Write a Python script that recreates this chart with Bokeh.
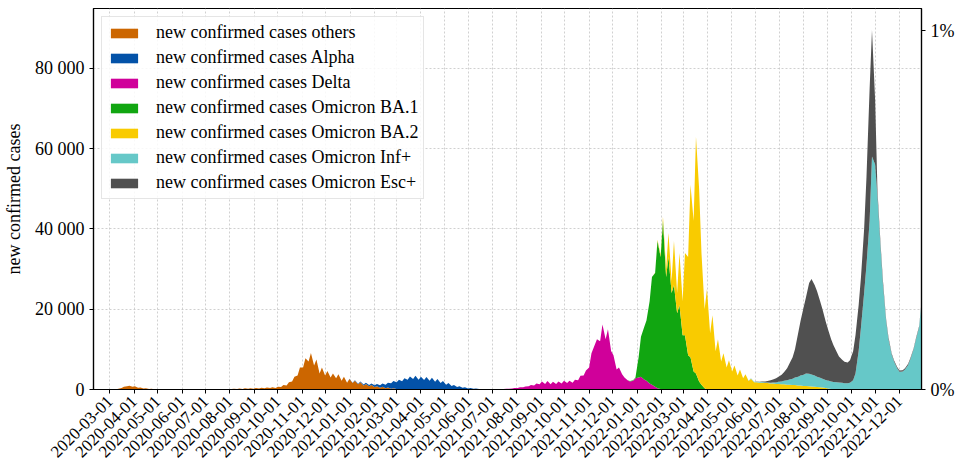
import numpy as np
import pandas as pd
from bokeh.plotting import figure
from bokeh.models import ColumnDataSource, Range1d, LinearAxis, FixedTicker, DatetimeTickFormatter
from bokeh.embed import file_html
from bokeh.resources import INLINE

# ---------------- data (twice-weekly grid: Monday / Thursday) -------------
first_monday = "2020-02-24"
n_weeks = 149

series_labels = ["new confirmed cases others", "new confirmed cases Alpha", "new confirmed cases Delta",
                 "new confirmed cases Omicron BA.1", "new confirmed cases Omicron BA.2",
                 "new confirmed cases Omicron Inf+", "new confirmed cases Omicron Esc+"]
series_colors = ["#cc6600", "#0352a8", "#d0009a", "#11a611", "#f9cb00", "#66c8c8", "#505050"]

# start week index, then values as (Mon, Thu) pairs
others_start = 0
others = [0, 0, 0, 20, 60, 180, 400, 700, 800, 950, 700, 800, 450, 500, 250, 300, 120, 180, 80, 100,
          40, 60, 40, 60, 40, 60, 40, 60, 40, 60, 40, 60, 40, 60, 40, 60,
          80, 120, 80, 120, 80, 120, 80, 120, 80, 120,
          100, 200, 150, 250, 150, 300, 200, 300, 200, 400, 250, 450, 300, 500, 350, 550, 400, 700,
          600, 1100, 1000, 1800, 2000, 3200, 3500, 5500, 5500, 7800, 7000, 9100, 6000, 7500,
          4000, 5500, 3500, 4600, 3000, 4000, 2800, 3800, 2200, 3200, 1700, 2600,
          1600, 2200, 1300, 1800, 1000, 1400, 800, 1100, 600, 800, 450, 700, 300, 500,
          200, 300, 100, 150, 50, 80, 30, 30]

alpha_start = 44
alpha = [0, 50, 70, 100, 150, 200, 220, 300, 300, 400, 450, 600, 600, 800, 900, 1200, 1350, 1800,
         1700, 2250, 2000, 2700, 2400, 3200, 2600, 3400, 2450, 3200, 2350, 3100, 2200, 2900,
         1950, 2600, 1600, 2100, 1200, 1600, 850, 1100, 600, 800, 420, 550, 270, 350, 190, 250,
         120, 150, 80, 100, 50, 60, 30, 30, 20, 20, 10, 0]

delta_start = 70
delta = [0, 10, 20, 40, 60, 100, 150, 200, 250, 350, 400, 550, 550, 750, 800, 1100, 1000, 1500,
         1300, 2000, 1400, 2100, 1300, 1900, 1400, 2000, 1500, 2200, 1600, 2200, 1700, 2400,
         2300, 3400, 3500, 4700, 5500, 9000, 11000, 12500, 12000, 16200, 12500, 15000,
         9600, 8500, 5000, 5500, 3800, 3000, 2300, 2000, 2200, 2800, 3000, 3150, 2500, 2200,
         1500, 1200, 700, 300, 100, 0]

ba1_start = 95
ba1 = [0, 100, 100, 200, 5000, 10000, 13000, 15000, 20500, 26800, 28300, 36700, 32900, 42000,
       28000, 33000, 24000, 26000, 19000, 21000, 13500, 13500, 8500, 8000, 4500, 4000,
       2000, 1200, 300, 0]

ba2_start = 100
ba2 = [100, 300, 500, 1000, 2000, 6000, 3000, 11000, 5000, 13000, 8500, 20500,
       24500, 43000, 37500, 59000, 48000, 32800, 19700, 25000, 14000, 18500, 9500, 12500,
       7000, 9000, 5500, 7300, 4500, 6000, 3500, 5000, 2800, 3800, 2100, 2700,
       1800, 1800, 1700, 1700, 1600, 1600, 1500, 1500, 1400, 1400, 1300, 1300, 1200, 1200,
       1100, 1100, 1000, 1000, 900, 900, 800, 750, 700, 650, 550, 500, 350, 250, 100, 0]

inf_start = 116
inf = [0, 0, 50, 100, 150, 150, 150, 150, 150, 150, 200, 250, 350, 500, 700, 900, 1100, 1300,
       1600, 1900, 2200, 2500, 2800, 3100, 3100, 3000, 2800, 2500, 2400, 2200, 2000, 2000,
       1900, 1850, 1800, 1750, 1650, 1550, 1550, 1700, 2300, 4000, 9500, 15500, 24000, 31000,
       42000, 58000, 56000, 48000, 35000, 26000, 17000, 12500, 8700, 7000, 5300, 4400,
       4500, 5000, 6100, 7600, 10000, 12500, 15500, 21500]

esc_start = 118
esc = [0, 50, 100, 150, 250, 350, 600, 750, 1050, 1300, 1700, 2100, 3000, 4000, 5300, 7000,
       10800, 13500, 16800, 19000, 22600, 23750, 22500, 21350, 19050, 17300, 14650, 12750,
       10500, 9150, 7600, 6450, 5750, 5350, 5150, 5600, 7200, 9500, 11500, 12500, 16000, 22000,
       33000, 31500, 16000, 1500, 1000, 1000, 500, 500, 300, 300, 300, 300, 300, 300,
       300, 300, 300, 300, 300, 300]

x_tick_labels = ["2020-03-01", "2020-04-01", "2020-05-01", "2020-06-01", "2020-07-01", "2020-08-01",
                 "2020-09-01", "2020-10-01", "2020-11-01", "2020-12-01", "2021-01-01", "2021-02-01",
                 "2021-03-01", "2021-04-01", "2021-05-01", "2021-06-01", "2021-07-01", "2021-08-01",
                 "2021-09-01", "2021-10-01", "2021-11-01", "2021-12-01", "2022-01-01", "2022-02-01",
                 "2022-03-01", "2022-04-01", "2022-05-01", "2022-06-01", "2022-07-01", "2022-08-01",
                 "2022-09-01", "2022-10-01", "2022-11-01", "2022-12-01"]
y_ticks = [0, 20000, 40000, 60000, 80000]
y_tick_labels = ["0", "20 000", "40 000", "60 000", "80 000"]
pct_ticks = [0, 1]
pct_tick_labels = ["0%", "1%"]
one_percent_cases = 89390

# ---------------- build table ----------------
mondays = pd.date_range(first_monday, periods=n_weeks, freq="7D")
dates = []
for m in mondays:
    dates.append(m)
    dates.append(m + pd.Timedelta(days=3))
n = len(dates)


def expand(start_week, vals):
    arr = np.zeros(n)
    arr[2 * start_week: 2 * start_week + len(vals)] = vals
    return arr


keys = ["s0", "s1", "s2", "s3", "s4", "s5", "s6"]
data = {"date": dates}
for k, (st, vals) in zip(keys, [(others_start, others), (alpha_start, alpha), (delta_start, delta),
                                 (ba1_start, ba1), (ba2_start, ba2), (inf_start, inf), (esc_start, esc)]):
    data[k] = expand(st, vals)
src = ColumnDataSource(data)

FONT = "Liberation Serif"
y_top = 94870

p = figure(width=957, height=466, x_axis_type="datetime", output_backend="svg", toolbar_location=None,
           x_range=Range1d(pd.Timestamp("2020-02-09 07:00"), dates[-1]),
           y_range=Range1d(0, y_top),
           min_border_left=90, min_border_right=36, min_border_top=8, min_border_bottom=77)

p.varea_stack(stackers=keys, x="date", color=series_colors, source=src, legend_label=series_labels)

# x axis
tick_ms = [pd.Timestamp(s).value // 10**6 for s in x_tick_labels]
p.xaxis.ticker = FixedTicker(ticks=tick_ms)
p.xaxis.formatter = DatetimeTickFormatter(days="%Y-%m-%d", months="%Y-%m-%d", years="%Y-%m-%d")
p.xaxis.major_label_orientation = np.pi / 4

# y axis
p.yaxis.ticker = FixedTicker(ticks=y_ticks)
p.yaxis.major_label_overrides = {t: l for t, l in zip(y_ticks, y_tick_labels)}
p.yaxis.axis_label = "new confirmed cases"
p.yaxis.axis_label_standoff = 8

# right axis in percent
p.extra_y_ranges = {"pct": Range1d(0, y_top / one_percent_cases)}
rax = LinearAxis(y_range_name="pct", ticker=FixedTicker(ticks=pct_ticks),
                 major_label_overrides={t: l for t, l in zip(pct_ticks, pct_tick_labels)})
p.add_layout(rax, "right")

for ax in p.axis:
    ax.axis_line_color = "black"
    ax.axis_line_width = 1.2
    ax.major_tick_out = 4
    ax.major_tick_in = 0
    ax.major_tick_line_color = "black"
    ax.minor_tick_line_color = None
    ax.major_label_text_font = FONT
    ax.major_label_text_font_size = "18px"
    ax.major_label_text_color = "black"
    ax.major_label_standoff = 5
    ax.axis_label_text_font = FONT
    ax.axis_label_text_font_size = "18px"
    ax.axis_label_text_font_style = "normal"
    ax.axis_label_text_color = "black"
p.xaxis.major_label_text_font_size = "17px"

p.outline_line_color = "black"
p.outline_line_width = 1.2
p.grid.grid_line_color = "#c4c4c4"
p.grid.grid_line_dash = "2 2"
p.grid.grid_line_width = 0.8

lg = p.legend[0]
lg.location = "top_left"
lg.margin = 8
lg.padding = 5
lg.spacing = 4
lg.glyph_width = 34
lg.glyph_height = 12
lg.label_height = 20
lg.label_standoff = 15
lg.label_text_font = FONT
lg.label_text_font_size = "18px"
lg.label_text_color = "black"
lg.border_line_color = "#cccccc"
lg.background_fill_alpha = 0.85

open("out.html", "w").write(file_html(p, INLINE))
